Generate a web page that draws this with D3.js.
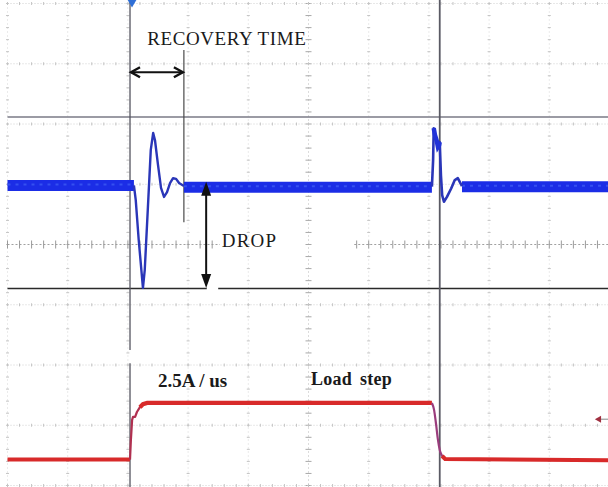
<!DOCTYPE html>
<html>
<head>
<meta charset="utf-8">
<script src="https://cdn.jsdelivr.net/npm/d3@7"></script>
<style>
  html, body { margin: 0; padding: 0; background: #fff; }
  svg { display: block; }
</style>
</head>
<body>
<svg id="chart" width="608" height="487"></svg>
<script>
// ---------- DATA (time and amplitude in scope divisions) ----------
const gridCols = [0, 1, 2, 3, 4, 5, 6, 7, 8, 9, 10];
const gridRows = [-4, -3, -2, -1, 0, 1, 2, 3, 4];

// Channel 1 (output voltage, blue) – noisy steady bands [tStart, tEnd, level]
const ch1BandStart = [0, 2.93, 7.55];
const ch1BandEnd   = [2.10, 7.05, 10];
const ch1BandLevel = [0.98, 0.95, 0.96];

// Channel 1 transients
const ch1Tr1Time = [2.10, 2.13, 2.18, 2.25, 2.28, 2.33, 2.38, 2.42, 2.45, 2.50, 2.55, 2.60, 2.65, 2.70, 2.75, 2.80, 2.85, 2.93];
const ch1Tr1Volt = [0.98, 0.74, 0.07, -0.72, -0.42, 0.57, 1.57, 1.85, 1.73, 1.32, 0.94, 0.79, 0.87, 1.02, 1.10, 1.09, 1.02, 0.97];
const ch1Tr2Time = [7.05, 7.07, 7.08, 7.10, 7.13, 7.15, 7.17, 7.18, 7.20, 7.22, 7.25, 7.30, 7.37, 7.43, 7.48, 7.55];
const ch1Tr2Volt = [0.96, 1.40, 1.93, 1.82, 1.72, 1.62, 1.65, 1.70, 1.15, 0.82, 0.71, 0.79, 0.93, 1.07, 1.10, 0.97];

// Channel 2 (load current, red)
const ch2Time = [0, 2.035, 2.05, 2.07, 2.085, 2.12, 2.15, 2.20, 2.25, 2.32, 7.05, 7.085, 7.12, 7.15, 7.18, 7.22, 7.27, 10];
const ch2Volt = [-3.57, -3.57, -3.24, -2.91, -2.86, -2.86, -2.78, -2.70, -2.65, -2.63, -2.63, -2.74, -2.99, -3.24, -3.41, -3.51, -3.56, -3.58];

// Cursors
const timeCursors = [2.035, 7.18];
const recoveryCursor = { t: 2.93, v0: 3.23, v1: 0.37 };
const levelCursorUpper = 2.115;
const levelCursorLower = -0.73;

// Annotations
const recoveryArrow = { t0: 2.035, t1: 2.93, v: 2.86 };
const dropArrow = { t: 3.30, v0: 1.04, v1: -0.72 };
const labels = [
  { text: "RECOVERY TIME", t: 2.32, v: 3.31, bold: false, size: 19, ls: 0.6 },
  { text: "DROP", t: 3.56, v: -0.04, bold: false, size: 19, ls: 1.2 },
  { text: "2.5A / us", t: 2.50, v: -2.36, bold: true, size: 19, ls: 0 },
  { text: "Load step", t: 5.04, v: -2.34, bold: true, size: 18, ls: 0.3 }
];

// ---------- SCALES ----------
const svg = d3.select("#chart");
const x = d3.scaleLinear().domain([0, 10]).range([7.5, 609.5]);
const y = d3.scaleLinear().domain([4, -4]).range([3.5, 485.5]);

// ---------- GRID ----------
const grid = svg.append("g");
const minor = d3.range(-4, 4.001, 0.2);
const minorT = d3.range(0, 10.001, 0.2);

gridCols.forEach(c => {
  const center = c === 5;
  grid.append("line")
    .attr("x1", x(c)).attr("x2", x(c)).attr("y1", y(4)).attr("y2", y(-4))
    .attr("stroke", center ? "#b8b8b8" : "#d6d6d6").attr("stroke-width", 1)
    .attr("stroke-dasharray", "1,3");
  grid.selectAll(null).data(minor).enter().append("line")
    .attr("x1", x(c) - (center ? 3 : 1.5)).attr("x2", x(c) + (center ? 3 : 1.5))
    .attr("y1", d => y(d)).attr("y2", d => y(d))
    .attr("stroke", center ? "#a8a8a8" : "#c4c4c4").attr("stroke-width", 1);
});
gridRows.forEach(r => {
  const center = r === 0;
  const segs = center ? [[0, 3.53], [5.76, 10]] : [[0, 10]];
  segs.forEach(([a, b]) => {
    grid.append("line")
      .attr("x1", x(a)).attr("x2", x(b)).attr("y1", y(r)).attr("y2", y(r))
      .attr("stroke", center ? "#a0a0a0" : "#d0d0d0").attr("stroke-width", 1)
      .attr("stroke-dasharray", center ? "2,2" : "1,2");
    grid.selectAll(null).data(minorT.filter(d => d >= a && d <= b)).enter().append("line")
      .attr("x1", d => x(d)).attr("x2", d => x(d))
      .attr("y1", y(r) - (center ? 4 : 1.5)).attr("y2", y(r) + (center ? 4 : 1.5))
      .attr("stroke", center ? "#9a9a9a" : "#c4c4c4").attr("stroke-width", 1);
  });
});

// ---------- CURSORS ----------
const cur = svg.append("g");
cur.append("line")
  .attr("x1", x(0)).attr("x2", 608).attr("y1", y(levelCursorUpper)).attr("y2", y(levelCursorUpper))
  .attr("stroke", "#7a7a86").attr("stroke-width", 1.6);
[[0, 3.31], [3.50, 10]].forEach(([a, b]) => {
  cur.append("line")
    .attr("x1", x(a)).attr("x2", Math.min(x(b), 608)).attr("y1", y(levelCursorLower)).attr("y2", y(levelCursorLower))
    .attr("stroke", "#2a2a2a").attr("stroke-width", 1.6);
});
// time cursor 1 (with small gap near the current label)
[[4.05, -1.75], [-1.97, -4.1]].forEach(([a, b]) => {
  cur.append("line")
    .attr("x1", x(timeCursors[0])).attr("x2", x(timeCursors[0]))
    .attr("y1", Math.max(0, y(a))).attr("y2", Math.min(487, y(b)))
    .attr("stroke", "#55555f").attr("stroke-width", 1.3);
});
cur.append("line")
  .attr("x1", x(timeCursors[1])).attr("x2", x(timeCursors[1]))
  .attr("y1", 0).attr("y2", 487)
  .attr("stroke", "#5a5a64").attr("stroke-width", 1.8);
cur.append("line")
  .attr("x1", x(recoveryCursor.t)).attr("x2", x(recoveryCursor.t))
  .attr("y1", y(recoveryCursor.v0)).attr("y2", y(recoveryCursor.v1))
  .attr("stroke", "#4a4a4a").attr("stroke-width", 1.2);

// trigger marker
svg.append("path")
  .attr("d", d3.symbol().type(d3.symbolTriangle).size(40)())
  .attr("transform", `translate(${x(timeCursors[0]) + 2},${2}) rotate(180)`)
  .attr("fill", "#2f6fd6");

// channel marker (right side)
svg.append("line")
  .attr("x1", 600).attr("x2", 608).attr("y1", y(-2.9)).attr("y2", y(-2.9))
  .attr("stroke", "#999").attr("stroke-width", 1.2);
svg.append("path")
  .attr("d", d3.symbol().type(d3.symbolTriangle).size(22)())
  .attr("transform", `translate(${599},${y(-2.9)}) rotate(-90)`)
  .attr("fill", "#a03040");

// ---------- TRACES ----------
const line = d3.line().x(d => x(d[0])).y(d => y(d[1]));

// Channel 1 bands
ch1BandStart.forEach((s, i) => {
  svg.append("line")
    .attr("x1", x(s)).attr("x2", Math.min(x(ch1BandEnd[i]), 608))
    .attr("y1", y(ch1BandLevel[i])).attr("y2", y(ch1BandLevel[i]))
    .attr("stroke", "#1b2de6").attr("stroke-width", 11);
});
// noise texture on bands
ch1BandStart.forEach((s, i) => {
  svg.append("line")
    .attr("x1", x(s)).attr("x2", Math.min(x(ch1BandEnd[i]), 608))
    .attr("y1", y(ch1BandLevel[i]) - 1).attr("y2", y(ch1BandLevel[i]) - 1)
    .attr("stroke", "#3550f0").attr("stroke-width", 2).attr("stroke-dasharray", "3,5");
});
// Channel 1 transients
[[ch1Tr1Time, ch1Tr1Volt, 2.4], [ch1Tr2Time, ch1Tr2Volt, 2.6]].forEach(([tt, vv, w]) => {
  svg.append("path")
    .datum(tt.map((t, i) => [t, vv[i]]))
    .attr("d", line)
    .attr("fill", "none")
    .attr("stroke", "#2a36b8").attr("stroke-width", w)
    .attr("stroke-linejoin", "round");
});
// thick noisy blob of second transient
svg.append("path")
  .datum(ch1Tr2Time.slice(2, 8).map((t, i) => [t, ch1Tr2Volt[i + 2]]))
  .attr("d", line)
  .attr("fill", "none").attr("stroke", "#2233d8").attr("stroke-width", 4.5);

// Channel 2
const ch2Pts = ch2Time.map((t, i) => [t, ch2Volt[i]]);
svg.append("path")
  .datum(ch2Pts.slice(0, 2)).attr("d", line).attr("fill", "none")
  .attr("stroke", "#d82a2a").attr("stroke-width", 4);
svg.append("path")
  .datum(ch2Pts.slice(1, 10)).attr("d", line).attr("fill", "none")
  .attr("stroke", "#b03050").attr("stroke-width", 2.2).attr("stroke-linejoin", "round");
svg.append("path")
  .datum(ch2Pts.slice(7, 11)).attr("d", line).attr("fill", "none")
  .attr("stroke", "#d82a2a").attr("stroke-width", 4.2);
svg.append("path")
  .datum(ch2Pts.slice(10, 17)).attr("d", d3.line().curve(d3.curveMonotoneX).x(d => x(d[0])).y(d => y(d[1])))
  .attr("fill", "none")
  .attr("stroke", "#9a3c7c").attr("stroke-width", 2.2);
svg.append("path")
  .datum(ch2Pts.slice(15)).attr("d", line).attr("fill", "none")
  .attr("stroke", "#d82a2a").attr("stroke-width", 4);

// ---------- ANNOTATIONS ----------
const ann = svg.append("g").attr("stroke", "#111").attr("fill", "#111");
// recovery arrow (open chevrons)
const ra = recoveryArrow;
ann.append("line")
  .attr("x1", x(ra.t0) + 1).attr("x2", x(ra.t1) - 1).attr("y1", y(ra.v)).attr("y2", y(ra.v))
  .attr("stroke-width", 2);
ann.append("path")
  .attr("d", `M${x(ra.t0) + 10},${y(ra.v) - 5} L${x(ra.t0) + 1},${y(ra.v)} L${x(ra.t0) + 10},${y(ra.v) + 5}`)
  .attr("fill", "none").attr("stroke-width", 2.4);
ann.append("path")
  .attr("d", `M${x(ra.t1) - 10},${y(ra.v) - 5} L${x(ra.t1) - 1},${y(ra.v)} L${x(ra.t1) - 10},${y(ra.v) + 5}`)
  .attr("fill", "none").attr("stroke-width", 2.4);
// drop arrow (filled heads)
const da = dropArrow;
ann.append("line")
  .attr("x1", x(da.t)).attr("x2", x(da.t)).attr("y1", y(da.v0) + 4).attr("y2", y(da.v1) - 4)
  .attr("stroke-width", 2);
ann.append("path")
  .attr("d", `M${x(da.t)},${y(da.v0)} L${x(da.t) - 5},${y(da.v0) + 14} L${x(da.t) + 5},${y(da.v0) + 14} Z`)
  .attr("stroke", "none");
ann.append("path")
  .attr("d", `M${x(da.t)},${y(da.v1)} L${x(da.t) - 5},${y(da.v1) - 14} L${x(da.t) + 5},${y(da.v1) - 14} Z`)
  .attr("stroke", "none");

// labels
svg.selectAll("text.lbl").data(labels).enter().append("text")
  .attr("class", "lbl")
  .attr("x", d => x(d.t)).attr("y", d => y(d.v))
  .attr("font-family", "'Liberation Serif', 'Times New Roman', serif")
  .attr("font-size", d => d.size)
  .attr("font-weight", d => d.bold ? "bold" : "normal")
  .attr("letter-spacing", d => d.ls)
  .attr("fill", "#1a1a1a")
  .attr("word-spacing", d => d.text === "Load step" ? 3 : 0)
  .text(d => d.text);
</script>
</body>
</html>
